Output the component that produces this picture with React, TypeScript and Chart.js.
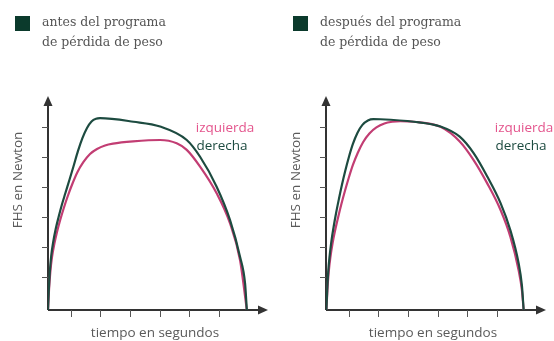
import React, { useEffect, useRef } from "react";
import { Chart, registerables } from "chart.js";

Chart.register(...registerables);

// ---- data (x in seconds-ticks, y in force-ticks) ----
const X_MIN = 0.233;
const X_MAX = 7.665;
const Y_MIN = -0.1;
const Y_MAX = 7.05;
const X_TICKS = [1, 2, 3, 4, 5, 6];
const Y_TICKS = [1, 2, 3, 4, 5, 6];

const SERIES_LABELS = ["derecha", "izquierda"];
const TITLE_BEFORE = ["antes del programa", "de pérdida de peso"];
const TITLE_AFTER = ["después del programa", "de pérdida de peso"];
const X_TITLE = "tiempo en segundos";
const Y_TITLE = "FHS en Newton";

// antes: derecha
const beforeRightX = [0.233, 0.26, 0.294, 0.341, 0.409, 0.493, 0.591, 0.699, 0.821, 0.956, 1.098, 1.247, 1.399, 1.551, 1.703, 1.855, 1.99, 3.12, 4.02, 4.92, 5.37, 5.93, 6.38, 6.72, 6.89, 6.95];
const beforeRightY = [-0.1, 0.565, 1.167, 1.702, 2.171, 2.605, 3.007, 3.408, 3.809, 4.244, 4.712, 5.214, 5.649, 5.983, 6.201, 6.291, 6.308, 6.19, 6.03, 5.58, 5.02, 4.02, 2.91, 1.68, 0.79, -0.1];
// antes: izquierda
const beforeLeftX = [0.233, 0.267, 0.311, 0.368, 0.446, 0.537, 0.645, 0.767, 0.902, 1.054, 1.23, 1.432, 1.652, 1.889, 2.159, 2.429, 3.105, 4.02, 4.58, 4.92, 5.37, 5.93, 6.38, 6.72, 6.95];
const beforeLeftY = [-0.1, 0.565, 1.167, 1.669, 2.104, 2.505, 2.906, 3.308, 3.709, 4.11, 4.512, 4.846, 5.114, 5.281, 5.398, 5.458, 5.532, 5.58, 5.47, 5.25, 4.69, 3.8, 2.8, 1.57, -0.1];
// después: derecha
const afterRightX = [0.247, 0.274, 0.307, 0.355, 0.416, 0.49, 0.574, 0.669, 0.77, 0.882, 1.007, 1.142, 1.294, 1.463, 1.649, 1.834, 2.071, 3.2, 4.1, 4.75, 5.22, 5.68, 6.13, 6.46, 6.74, 6.85, 6.91];
const afterRightY = [-0.1, 0.565, 1.167, 1.702, 2.204, 2.672, 3.14, 3.609, 4.077, 4.545, 5.013, 5.448, 5.816, 6.084, 6.234, 6.278, 6.274, 6.19, 6.03, 5.69, 5.14, 4.36, 3.47, 2.57, 1.46, 0.73, -0.1];
// después: izquierda
const afterLeftX = [0.247, 0.28, 0.324, 0.382, 0.456, 0.544, 0.645, 0.753, 0.872, 1.0, 1.142, 1.304, 1.49, 1.699, 1.936, 2.206, 2.476, 2.747, 3.2, 4.1, 4.75, 5.22, 5.68, 6.13, 6.46, 6.74, 6.85, 6.91];
const afterLeftY = [-0.1, 0.565, 1.167, 1.669, 2.137, 2.572, 3.007, 3.441, 3.876, 4.311, 4.746, 5.147, 5.515, 5.799, 6.0, 6.134, 6.191, 6.211, 6.19, 6.02, 5.53, 4.91, 4.13, 3.24, 2.35, 1.23, 0.57, -0.1];

const GREEN = "#1d4b40";
const PINK = "#c23d73";
const PINK_TEXT = "#e4558d";
const TEXT = "#555555";
const AXIS = "#333333";

const zip = (xs: number[], ys: number[]) => xs.map((x, i) => ({ x, y: ys[i] }));

type PanelProps = {
  title: string[];
  rightX: number[];
  rightY: number[];
  leftX: number[];
  leftY: number[];
  annX: number;
  width: number;
};

function Panel({ title, rightX, rightY, leftX, leftY, annX, width }: PanelProps) {
  const ref = useRef<HTMLCanvasElement>(null);
  useEffect(() => {
    const canvas = ref.current!;
    const decor = {
      id: "decor",
      beforeDatasetsDraw(chart: any) {
        const ctx = chart.ctx;
        const xs = chart.scales.x;
        const ys = chart.scales.y;
        const x0 = xs.getPixelForValue(X_MIN);
        const x1 = xs.getPixelForValue(X_MAX);
        const y0 = ys.getPixelForValue(Y_MIN);
        const y1 = ys.getPixelForValue(Y_MAX);
        ctx.save();
        ctx.strokeStyle = AXIS;
        ctx.fillStyle = AXIS;
        ctx.lineWidth = 2;
        ctx.beginPath();
        ctx.moveTo(x0, y0);
        ctx.lineTo(x0, y1 + 8);
        ctx.moveTo(x0, y0);
        ctx.lineTo(x1 - 8, y0);
        ctx.stroke();
        // arrows
        ctx.beginPath();
        ctx.moveTo(x0, y1);
        ctx.lineTo(x0 - 4.5, y1 + 10);
        ctx.lineTo(x0 + 4.5, y1 + 10);
        ctx.closePath();
        ctx.fill();
        ctx.beginPath();
        ctx.moveTo(x1, y0);
        ctx.lineTo(x1 - 10, y0 - 4.5);
        ctx.lineTo(x1 - 10, y0 + 4.5);
        ctx.closePath();
        ctx.fill();
        // ticks
        ctx.lineWidth = 1;
        ctx.strokeStyle = "#555";
        ctx.beginPath();
        for (const t of Y_TICKS) {
          const p = Math.round(ys.getPixelForValue(t)) + 0.5;
          ctx.moveTo(x0 - 6, p);
          ctx.lineTo(x0, p);
        }
        for (const t of X_TICKS) {
          const p = Math.round(xs.getPixelForValue(t)) + 0.5;
          ctx.moveTo(p, y0);
          ctx.lineTo(p, y0 + 7);
        }
        ctx.stroke();
        ctx.restore();
      },
      afterDraw(chart: any) {
        const ctx = chart.ctx;
        const xs = chart.scales.x;
        const ys = chart.scales.y;
        const x0 = xs.getPixelForValue(X_MIN);
        const y0 = ys.getPixelForValue(Y_MIN);
        ctx.save();
        // legend square + title
        ctx.fillStyle = "#0b3a2c";
        ctx.fillRect(15, 16, 15, 15);
        ctx.fillStyle = TEXT;
        ctx.font = "12.5px 'DejaVu Serif'";
        ctx.textBaseline = "middle";
        ctx.textAlign = "left";
        ctx.fillText(title[0], 42, 23);
        ctx.fillText(title[1], 42, 43);
        // axis titles
        ctx.font = "13.5px 'Open Sans'";
        ctx.fillStyle = "#5a5a5a";
        ctx.textAlign = "center";
        ctx.fillText(X_TITLE, (x0 + xs.getPixelForValue(X_MAX)) / 2 - 3, y0 + 23);
        ctx.save();
        ctx.translate(18, 180);
        ctx.rotate(-Math.PI / 2);
        ctx.fillText(Y_TITLE, 0, 0);
        ctx.restore();
        // series annotations
        ctx.font = "13.5px 'Open Sans'";
        ctx.fillStyle = PINK_TEXT;
        ctx.fillText(SERIES_LABELS[1], annX, 128);
        ctx.fillStyle = GREEN;
        ctx.fillText(SERIES_LABELS[0], annX - 3, 146);
        ctx.restore();
      },
    };
    const chart = new Chart(canvas, {
      type: "line",
      data: {
        datasets: [
          {
            label: SERIES_LABELS[0],
            data: zip(rightX, rightY),
            borderColor: GREEN,
            borderWidth: 2.2,
            pointRadius: 0,
            cubicInterpolationMode: "monotone",
            fill: false,
          },
          {
            label: SERIES_LABELS[1],
            data: zip(leftX, leftY),
            borderColor: PINK,
            borderWidth: 2.2,
            pointRadius: 0,
            cubicInterpolationMode: "monotone",
            fill: false,
          },
        ],
      },
      options: {
        animation: false,
        responsive: false,
        devicePixelRatio: 1,
        layout: { padding: { left: 48, right: width - 268, top: 96, bottom: 31 } },
        scales: {
          x: { type: "linear", min: X_MIN, max: X_MAX, display: false },
          y: { type: "linear", min: Y_MIN, max: Y_MAX, display: false },
        },
        plugins: { legend: { display: false }, tooltip: { enabled: false } },
      },
      plugins: [decor],
    } as any);
    return () => chart.destroy();
  }, []);
  return <canvas ref={ref} width={width} height={341} style={{ display: "block", width, height: 341 }} />;
}

export default function App() {
  return (
    <div style={{ position: "absolute", left: 0, top: 0, width: 554, height: 341, display: "flex", background: "#fff" }}>
      <Panel title={TITLE_BEFORE} rightX={beforeRightX} rightY={beforeRightY} leftX={beforeLeftX} leftY={beforeLeftY} annX={225} width={278} />
      <Panel title={TITLE_AFTER} rightX={afterRightX} rightY={afterRightY} leftX={afterLeftX} leftY={afterLeftY} annX={246} width={276} />
    </div>
  );
}
